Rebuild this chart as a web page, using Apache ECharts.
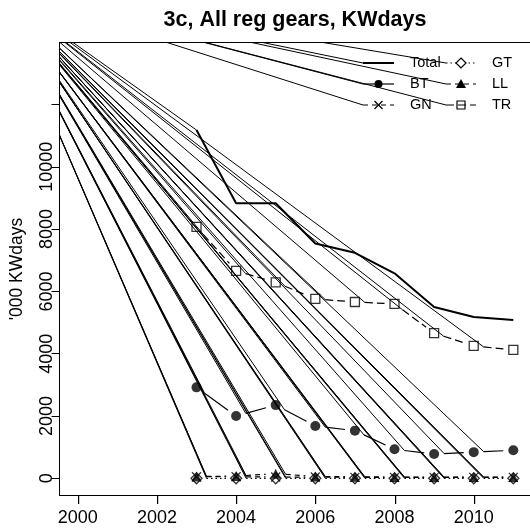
<!DOCTYPE html>
<html>
<head>
<meta charset="utf-8">
<script src="https://cdn.jsdelivr.net/npm/echarts@6/dist/echarts.min.js"></script>
<style>
html, body { margin: 0; padding: 0; background: #fff; }
#c { width: 530px; height: 528px; }
</style>
</head>
<body>
<div id="c"></div>
<script>
// Effort by gear, thousand KW-days per year
const years = [2003, 2004, 2005, 2006, 2007, 2008, 2009, 2010, 2011];
const totalKW = [11180, 8830, 8830, 7540, 7240, 6580, 5500, 5180, 5080];
const btKW = [2920, 2000, 2350, 1680, 1530, 930, 780, 840, 900];
const gnKW = [50, 50, 40, 40, 30, 30, 30, 30, 30];
const gtKW = [0, 0, 0, 0, 0, 0, 0, 0, 0];
const llKW = [60, 70, 150, 60, 50, 40, 40, 40, 40];
const trKW = [8070, 6660, 6290, 5760, 5660, 5600, 4660, 4250, 4120];

const xTicks = [2000, 2002, 2004, 2006, 2008, 2010];
const yTicks = [0, 2000, 4000, 6000, 8000, 10000, 12000];
const yLabels = [0, 2000, 4000, 6000, 8000, 10000];

// every stroke of the plotted paths starts from this stray pen position
const penOrigin = [1997.94, 15740];

const FONT = '"Liberation Sans", Arial, Helvetica, sans-serif';
const GAP = 10; // px gap left around each plotted symbol
const X_MIN = 1999.5404, X_MAX = 2011.459, Y_MIN = -552, Y_MAX = 13990;

const gears = [
  { name: 'BT', values: btKW, symbol: 'circle', size: 10, fill: '#000', dash: 'solid' },
  { name: 'GN', values: gnKW, symbol: 'path://M0,0L10,10M10,0L0,10', size: 9, fill: 'transparent', dash: [5, 4] },
  { name: 'GT', values: gtKW, symbol: 'diamond', size: 11, fill: 'transparent', dash: [1.5, 3] },
  { name: 'LL', values: llKW, symbol: 'triangle', size: 10, fill: '#000', dash: [5, 4] },
  { name: 'TR', values: trKW, symbol: 'rect', size: 9, fill: 'transparent', dash: [8, 4] }
];

const chart = echarts.init(document.getElementById('c'), null, { renderer: 'canvas' });

const axisLineStyle = { show: true, onZero: false, lineStyle: { color: '#000', width: 1 } };
const baseOption = {
  animation: false,
  backgroundColor: '#fff',
  grid: {
    left: 59.5, top: 42.5, right: -1.5, bottom: 32.5,
    containLabel: false, outerBoundsMode: 'none', show: false
  },
  xAxis: [{
    type: 'value', position: 'bottom', min: X_MIN, max: X_MAX,
    axisLine: axisLineStyle,
    splitLine: { show: false },
    axisTick: { show: false },
    axisLabel: { customValues: xTicks, formatter: v => String(v), fontSize: 18, fontFamily: FONT, color: '#000', margin: 14 }
  }, {
    // top edge of the plot frame
    type: 'value', position: 'top', min: X_MIN, max: X_MAX,
    axisLine: axisLineStyle,
    splitLine: { show: false }, axisTick: { show: false }, axisLabel: { show: false }
  }],
  yAxis: {
    type: 'value', min: Y_MIN, max: Y_MAX,
    name: "'000 KWdays", nameLocation: 'middle', nameGap: 33, nameRotate: 90,
    nameTextStyle: { fontSize: 17.5, fontFamily: FONT, color: '#000' },
    axisLine: axisLineStyle,
    splitLine: { show: false },
    axisTick: { show: true, inside: false, length: 8, customValues: yTicks, lineStyle: { color: '#000', width: 1 } },
    axisLabel: { customValues: yLabels, formatter: v => String(v), rotate: 90, fontSize: 18, fontFamily: FONT, color: '#000', margin: 3 }
  },
  series: []
};
chart.setOption(baseOption);

const toPx = p => chart.convertToPixel({ xAxisIndex: 0, yAxisIndex: 0 }, p);
const toData = p => chart.convertFromPixel({ xAxisIndex: 0, yAxisIndex: 0 }, p);
const BREAK = ['-', '-'];

const series = [];
const strays = [];

// Total: plain line
const totalPts = years.map((y, i) => [y, totalKW[i]]);
series.push({
  type: 'line', data: totalPts, symbol: 'none', clip: true, z: 3,
  lineStyle: { color: '#000', width: 2 }
});
strays.push(penOrigin, totalPts[0], BREAK);

// gears: symbols joined by segments that stop short of each symbol
gears.forEach(g => {
  const pts = years.map((y, i) => [y, g.values[i]]);
  const px = pts.map(toPx);
  const seg = [];
  for (let i = 0; i < px.length - 1; i++) {
    const a = px[i], b = px[i + 1];
    const dx = b[0] - a[0], dy = b[1] - a[1];
    const len = Math.hypot(dx, dy);
    if (len <= 2 * GAP) continue;
    const ux = dx / len, uy = dy / len;
    const s = toData([a[0] + ux * GAP, a[1] + uy * GAP]);
    const e = toData([b[0] - ux * GAP, b[1] - uy * GAP]);
    seg.push(s, e, BREAK);
    strays.push(penOrigin, s, BREAK);
  }
  series.push({
    type: 'line', data: seg, symbol: 'none', clip: true, connectNulls: false, z: 3,
    lineStyle: { color: '#000', width: 1.2, type: g.dash }
  });
  series.push({
    type: 'scatter', name: g.name, data: pts, symbol: g.symbol, symbolSize: g.size, z: 4,
    itemStyle: { color: g.fill, borderColor: '#000', borderWidth: g.fill === '#000' ? 0 : 1.3 }
  });
});

const graphics = [{
  type: 'text', x: 295, y: 20, z: 10,
  style: { text: '3c, All reg gears, KWdays', fontSize: 21.5, fontWeight: 'bold', fontFamily: FONT, fill: '#000', align: 'center', verticalAlign: 'middle' }
}];

// tick marks under the year axis, placed through the axis scale
xTicks.forEach(v => {
  const p = toPx([v, Y_MIN]);
  const x = Math.round(p[0]);
  const y = Math.round(p[1]);
  graphics.push({
    type: 'rect', z: 100, zlevel: 1, silent: true,
    shape: { x: x, y: y, width: 1.2, height: 8 },
    style: { fill: '#000' }
  });
});

// legend
const legendRows = [63, 84, 105];
const legendCols = [{ x0: 363, x1: 394, tx: 410 }, { x0: 446, x1: 476, tx: 492 }];
const legendItems = [
  { label: 'Total', col: 0, row: 0, dash: null, width: 2, mark: null },
  { label: 'BT', col: 0, row: 1, dash: null, width: 1.2, mark: 'circle' },
  { label: 'GN', col: 0, row: 2, dash: [5, 4], width: 1.2, mark: 'cross' },
  { label: 'GT', col: 1, row: 0, dash: [1.5, 3], width: 1.2, mark: 'diamond' },
  { label: 'LL', col: 1, row: 1, dash: [5, 4], width: 1.2, mark: 'triangle' },
  { label: 'TR', col: 1, row: 2, dash: [8, 4], width: 1.2, mark: 'square' }
];
legendItems.forEach(it => {
  const c = legendCols[it.col];
  const y = legendRows[it.row];
  const cx = (c.x0 + c.x1) / 2;
  graphics.push({
    type: 'line', z: 10, shape: { x1: c.x0, y1: y, x2: c.x1, y2: y },
    style: { stroke: '#000', lineWidth: it.width, lineDash: it.dash }
  });
  if (it.mark === 'circle') {
    graphics.push({ type: 'circle', z: 10, shape: { cx: cx, cy: y, r: 4 }, style: { fill: '#000' } });
  } else if (it.mark === 'cross') {
    graphics.push({ type: 'polyline', z: 10, shape: { points: [[cx - 4, y - 4], [cx + 4, y + 4]] }, style: { stroke: '#000', lineWidth: 1.2 } });
    graphics.push({ type: 'polyline', z: 10, shape: { points: [[cx - 4, y + 4], [cx + 4, y - 4]] }, style: { stroke: '#000', lineWidth: 1.2 } });
  } else if (it.mark === 'diamond') {
    graphics.push({ type: 'polygon', z: 10, shape: { points: [[cx, y - 5], [cx + 5, y], [cx, y + 5], [cx - 5, y]] }, style: { fill: '#fff', stroke: '#000', lineWidth: 1.2 } });
  } else if (it.mark === 'triangle') {
    graphics.push({ type: 'polygon', z: 10, shape: { points: [[cx, y - 5], [cx + 5, y + 4], [cx - 5, y + 4]] }, style: { fill: '#000' } });
  } else if (it.mark === 'square') {
    graphics.push({ type: 'rect', z: 10, shape: { x: cx - 4, y: y - 4, width: 8, height: 8 }, style: { fill: 'none', stroke: '#000', lineWidth: 1.2 } });
  }
  graphics.push({
    type: 'text', z: 10, x: c.tx, y: y,
    style: { text: it.label, fontSize: 14.5, fontFamily: FONT, fill: '#000', align: 'left', verticalAlign: 'middle' }
  });
  strays.push(penOrigin, toData([c.x0, y]), BREAK);
});

series.push({
  type: 'line', data: strays, symbol: 'none', clip: true, connectNulls: false, z: 2,
  lineStyle: { color: '#000', width: 1 }
});

chart.setOption({ series: series, graphic: graphics });
</script>
</body>
</html>
